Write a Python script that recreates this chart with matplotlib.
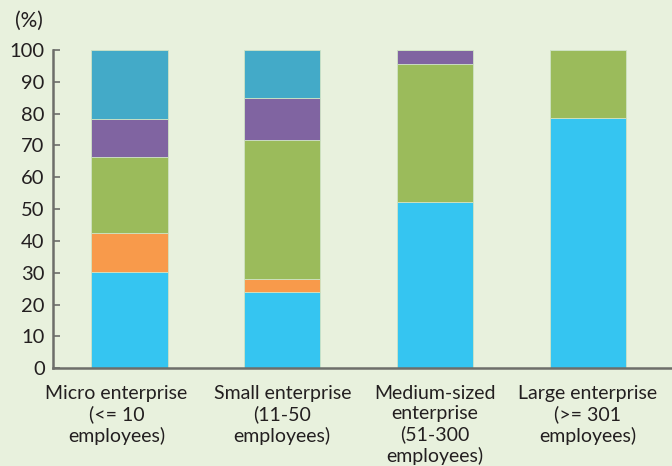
import matplotlib
matplotlib.use("Agg")
import matplotlib.pyplot as plt
import matplotlib.transforms as mtransforms
import numpy as np

categories = ["Micro enterprise\n(<= 10\nemployees)",
              "Small enterprise\n(11-50\nemployees)",
              "Medium-sized\nenterprise\n(51-300\nemployees)",
              "Large enterprise\n(>= 301\nemployees)"]
s1 = [30.2, 24.1, 52.3, 78.6]   # cyan
s2 = [12.4, 4.0, 0.0, 0.0]      # orange
s3 = [23.7, 43.6, 43.3, 21.4]   # green
s4 = [12.0, 13.1, 4.4, 0.0]     # purple
s5 = [21.7, 15.2, 0.0, 0.0]     # blue
series = [s1, s2, s3, s4, s5]
colors = ["#35c5f1", "#f89a4b", "#9bbb5b", "#8064a1", "#43aac8"]
yticks = [0, 10, 20, 30, 40, 50, 60, 70, 80, 90, 100]

bg = "#e8f1dd"
plt.rcParams['font.family'] = ['Lato', 'DejaVu Sans']
fig = plt.figure(figsize=(6.72, 4.66), dpi=100, facecolor=bg)
ax = fig.add_axes([0.0789, 0.2097, 0.9211, 0.683], facecolor=bg)

x = np.arange(len(categories))
bottom = np.zeros(len(categories))
for vals, c in zip(series, colors):
    v = np.array(vals)
    ax.bar(x, v, bottom=bottom, width=0.5, color=c, edgecolor="#cfe3c4", linewidth=0.6)
    bottom += v

ax.set_xlim(-0.5, 3.55)
ax.set_ylim(0, 100)
ax.set_yticks(yticks)
ax.set_yticklabels([str(t) for t in yticks], fontsize=14.5, color="#231f20")
ax.set_xticks(x)
ax.set_xticklabels(categories, fontsize=14, color="#231f20", linespacing=1.22)
ax.tick_params(axis='x', length=0, pad=12)
ax.tick_params(axis='y', length=5, width=1.2, color="#6d6e6a", pad=6, direction='in')
# first category label sits slightly left of its bar
lab0 = ax.get_xticklabels()[0]
lab0.set_transform(lab0.get_transform() + mtransforms.ScaledTranslation(-13/100, 0, fig.dpi_scale_trans))
for s in ['top', 'right']:
    ax.spines[s].set_visible(False)
for s in ['left', 'bottom']:
    ax.spines[s].set_color("#6d6e6a")
    ax.spines[s].set_linewidth(1.8)
fig.text(0.022, 0.955, "(%)", fontsize=15, color="#231f20", va='center', ha='left')

fig.savefig("out.png", dpi=100, facecolor=bg)
